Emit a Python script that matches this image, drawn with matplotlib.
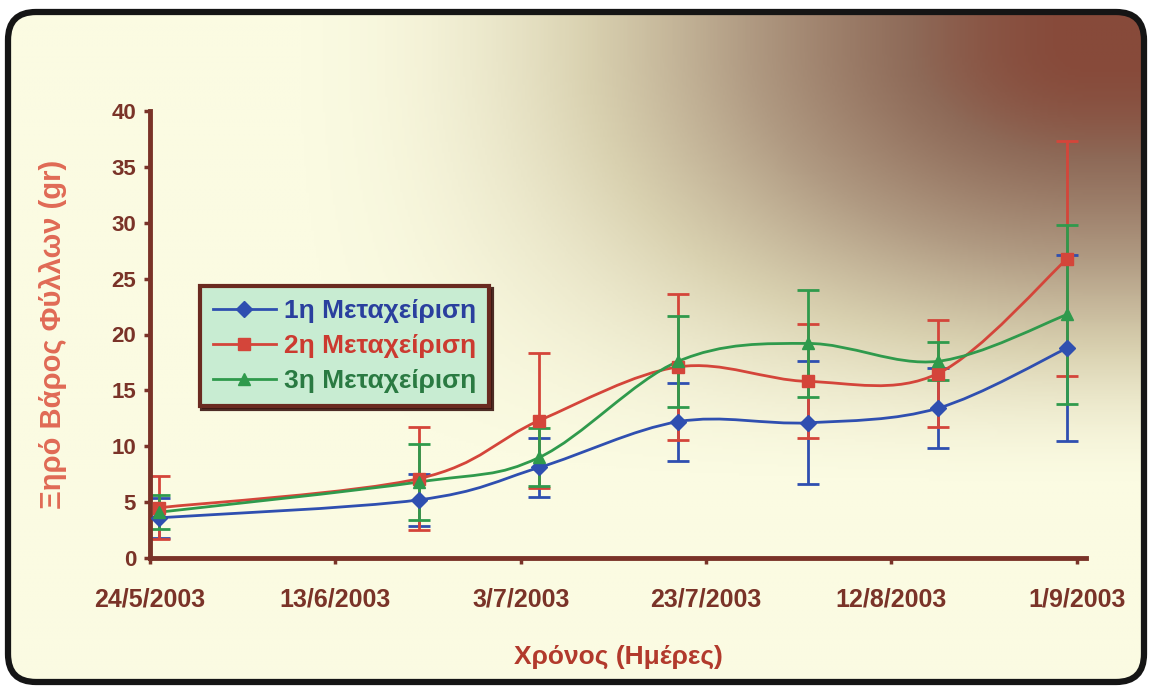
import datetime as dt
import numpy as np
import matplotlib
matplotlib.use('Agg')
import matplotlib.pyplot as plt
import matplotlib.dates as mdates
from matplotlib.path import Path
from matplotlib.patches import PathPatch, FancyBboxPatch
from matplotlib.colors import LinearSegmentedColormap

# sampling dates and dry leaf weight (gr) for the three treatments
dates = [dt.date(2003, 5, 25), dt.date(2003, 6, 22), dt.date(2003, 7, 5),
         dt.date(2003, 7, 20), dt.date(2003, 8, 3), dt.date(2003, 8, 17),
         dt.date(2003, 8, 31)]
labels = ['1η Μεταχείριση', '2η Μεταχείριση', '3η Μεταχείριση']
t1 = [3.6, 5.2, 8.1, 12.2, 12.1, 13.4, 18.8]
t1_err = [1.8, 2.3, 2.6, 3.5, 5.5, 3.6, 8.3]
t2 = [4.5, 7.1, 12.3, 17.1, 15.8, 16.5, 26.8]
t2_err = [2.8, 4.6, 6.0, 6.5, 5.1, 4.8, 10.5]
t3 = [4.1, 6.8, 9.0, 17.6, 19.2, 17.6, 21.8]
t3_err = [1.5, 3.4, 2.6, 4.1, 4.8, 1.7, 8.0]
tick_dates = [dt.date(2003, 5, 24), dt.date(2003, 6, 13), dt.date(2003, 7, 3),
              dt.date(2003, 7, 23), dt.date(2003, 8, 12), dt.date(2003, 9, 1)]

colors = ['#2f4fb0', '#d4453a', '#2f9a4c']
text_colors = ['#2a3f9e', '#cc3a30', '#2a7a42']
markers = ['D', 's', '^']
brown = '#7a3328'

plt.rcParams['font.family'] = ['Liberation Sans', 'DejaVu Sans']


def smooth_path(xs, ys):
  # Excel style smoothed line: cubic bezier through every point
  pts = np.column_stack([xs, ys])
  verts = [pts[0]]
  codes = [Path.MOVETO]
  n = len(pts)
  for i in range(n - 1):
    p0 = pts[i - 1] if i > 0 else pts[i]
    p1 = pts[i]
    p2 = pts[i + 1]
    p3 = pts[i + 2] if i + 2 < n else pts[i + 1]
    verts += [p1 + (p2 - p0) / 6, p2 - (p3 - p1) / 6, p2]
    codes += [Path.CURVE4] * 3
  return Path(verts, codes)


def smoothstep(a):
  a = np.clip(a, 0, 1)
  return a * a * (3 - 2 * a)


fig = plt.figure(figsize=(11.5, 6.89), dpi=100)
fig.patch.set_facecolor('white')

# background gradient (dark brown top right -> cream) inside a rounded black frame
bg = fig.add_axes([0, 0, 1, 1], zorder=-5)
bg.set_xlim(0, 1150)
bg.set_ylim(689, 0)
bg.axis('off')
u, v = np.meshgrid(np.linspace(0, 1, 460), np.linspace(0, 1, 276))
w = smoothstep((u - 0.2) / 0.75) ** 1.4 * smoothstep((0.72 - v) / 0.65)
cmap = LinearSegmentedColormap.from_list(
  'bg', [(0, '#fbfbe2'), (0.25, '#d9d1b0'), (0.55, '#b09a82'), (0.85, '#8e6a58'), (1, '#874a3a')])
img = bg.imshow(w, cmap=cmap, extent=[0, 1150, 689, 0], aspect='auto', vmin=0, vmax=1)
frame = FancyBboxPatch((8, 12), 1136, 670, boxstyle='round,pad=0,rounding_size=28',
                       facecolor='none', edgecolor='#151515', linewidth=4.5)
bg.add_patch(frame)
img.set_clip_path(frame)

ax = fig.add_axes([150 / 1150, 131 / 689, 936 / 1150, 447 / 689])
ax.patch.set_alpha(0)

x = mdates.date2num(dates)
series = [(t1, t1_err), (t2, t2_err), (t3, t3_err)]
for (vals, err), c, m, lab in zip(series, colors, markers, labels):
  ax.errorbar(x, vals, yerr=err, fmt='none', ecolor=c, elinewidth=2,
              capsize=8, capthick=2, zorder=2)
  ax.add_patch(PathPatch(smooth_path(x, vals), facecolor='none', edgecolor=c,
                         linewidth=2, zorder=3))
  ms = 8 if m != '^' else 9
  ax.plot(x, vals, linestyle='none', marker=m, color=c, markersize=ms, zorder=4)
  # proxy for the legend: line with marker
  ax.plot([], [], color=c, marker=m, markersize=ms, linewidth=2, label=lab)

ax.set_xlim(mdates.date2num(dt.date(2003, 5, 24)), mdates.date2num(dt.date(2003, 9, 2)))
ax.set_ylim(0, 40)
ax.set_yticks(range(0, 41, 5))
ax.set_xticks(mdates.date2num(tick_dates))
ax.set_xticklabels([f'{d.day}/{d.month}/{d.year}' for d in tick_dates])

for side in ['top', 'right']:
  ax.spines[side].set_visible(False)
for side in ['left', 'bottom']:
  ax.spines[side].set_color(brown)
  ax.spines[side].set_linewidth(3.5)
ax.tick_params(colors=brown, length=4, width=2.5, labelsize=16, pad=6)
ax.tick_params(axis='x', labelsize=18, pad=17)
for lbl in ax.get_xticklabels() + ax.get_yticklabels():
  lbl.set_fontweight('bold')
  lbl.set_color(brown)

ax.set_ylabel('Ξηρό Βάρος Φύλλων (gr)', color='#e06a55', fontsize=21,
              fontweight='bold', labelpad=32)
ax.set_xlabel('Χρόνος (Ημέρες)', color='#b23a2c', fontsize=19,
              fontweight='bold', labelpad=24)

leg = ax.legend(loc='upper left', bbox_to_anchor=(0.053, 0.609), borderaxespad=0,
                fontsize=19, handlelength=2.4, labelspacing=0.42, borderpad=0.5,
                handletextpad=0.3, fancybox=False, framealpha=1,
                shadow={'color': '#3a1510', 'alpha': 0.9})
leg.get_frame().set_facecolor('#c8ecd2')
leg.get_frame().set_edgecolor('#6a2a20')
leg.get_frame().set_linewidth(3)
for txt, tc in zip(leg.get_texts(), text_colors):
  txt.set_color(tc)
  txt.set_fontweight('bold')

fig.savefig('out.png', dpi=100, facecolor='white')
